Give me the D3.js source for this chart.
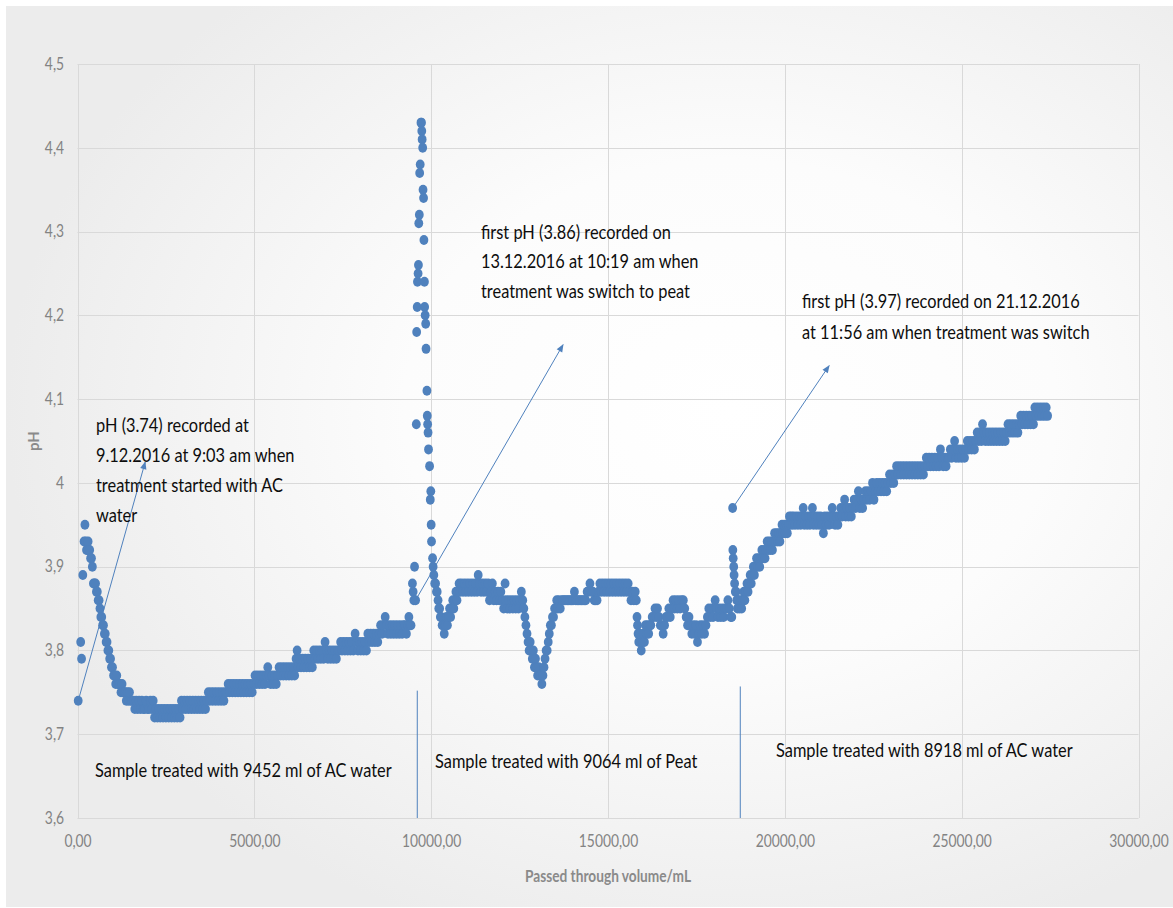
<!DOCTYPE html>
<html>
<head>
<meta charset="utf-8">
<script src="https://cdn.jsdelivr.net/npm/d3@7"></script>
<style>
  html, body { margin: 0; padding: 0; background: #ffffff; }
  svg { display: block; }
</style>
</head>
<body>
<svg id="chart" width="1173" height="908"></svg>
<script>
// pH readings [passed-through volume in mL, pH], one array per treatment phase
const acWaterFirst = [
  [20,3.74],[90,3.81],[115,3.79],[150,3.89],[185,3.93],[210,3.95],[235,3.93],[255,3.92],[280,3.92],[300,3.93],
  [320,3.92],[345,3.92],[370,3.91],[395,3.91],[420,3.90],[450,3.88],[480,3.88],[510,3.88],[535,3.87],[560,3.87],
  [585,3.86],[610,3.86],[635,3.85],[660,3.84],[685,3.84],[710,3.83],[735,3.83],[760,3.82],[785,3.82],[810,3.81],
  [835,3.81],[860,3.80],[885,3.80],[910,3.79],[935,3.79],[960,3.78],[990,3.78],[1020,3.77],[1050,3.77],[1080,3.76],
  [1110,3.77],[1140,3.76],[1170,3.76],[1200,3.76],[1230,3.75],[1260,3.76],[1290,3.75],[1320,3.75],[1350,3.75],[1380,3.74],
  [1410,3.75],[1440,3.74],[1470,3.75],[1500,3.74],[1540,3.74],[1580,3.74],[1620,3.73],[1660,3.74],[1700,3.73],[1740,3.74],
  [1780,3.73],[1820,3.74],[1860,3.73],[1900,3.73],[1940,3.74],[1980,3.73],[2020,3.73],[2060,3.74],[2100,3.73],[2140,3.74],
  [2180,3.72],[2220,3.73],[2260,3.72],[2300,3.73],[2340,3.72],[2380,3.73],[2420,3.72],[2460,3.73],[2500,3.72],[2540,3.73],
  [2580,3.72],[2620,3.73],[2660,3.72],[2700,3.73],[2740,3.72],[2780,3.73],[2820,3.72],[2860,3.73],[2900,3.72],[2940,3.74],
  [2980,3.73],[3020,3.74],[3060,3.73],[3100,3.74],[3140,3.73],[3180,3.74],[3220,3.73],[3260,3.74],[3300,3.73],[3340,3.74],
  [3380,3.73],[3420,3.74],[3460,3.73],[3500,3.74],[3540,3.73],[3580,3.74],[3620,3.73],[3660,3.74],[3700,3.75],[3740,3.74],
  [3780,3.75],[3820,3.74],[3860,3.75],[3900,3.74],[3940,3.75],[3980,3.74],[4020,3.75],[4060,3.74],[4100,3.75],[4140,3.74],
  [4180,3.75],[4220,3.75],[4260,3.76],[4300,3.75],[4340,3.76],[4380,3.75],[4420,3.76],[4460,3.75],[4500,3.76],[4540,3.75],
  [4580,3.76],[4620,3.75],[4660,3.76],[4700,3.75],[4740,3.76],[4780,3.75],[4820,3.76],[4860,3.75],[4900,3.76],[4940,3.75],
  [4980,3.76],[5020,3.77],[5060,3.76],[5100,3.77],[5140,3.76],[5180,3.77],[5220,3.76],[5260,3.77],[5300,3.76],[5340,3.77],
  [5380,3.78],[5420,3.77],[5460,3.76],[5500,3.77],[5540,3.76],[5580,3.77],[5620,3.76],[5660,3.77],[5700,3.78],[5740,3.77],
  [5780,3.78],[5820,3.77],[5860,3.78],[5900,3.77],[5940,3.78],[5980,3.77],[6020,3.78],[6060,3.77],[6100,3.78],[6140,3.77],
  [6180,3.79],[6210,3.80],[6240,3.78],[6280,3.79],[6320,3.78],[6360,3.79],[6400,3.78],[6440,3.79],[6480,3.78],[6520,3.79],
  [6560,3.78],[6600,3.79],[6640,3.78],[6680,3.80],[6720,3.79],[6760,3.80],[6800,3.79],[6840,3.80],[6880,3.79],[6920,3.80],
  [6960,3.79],[7000,3.81],[7040,3.80],[7080,3.79],[7120,3.80],[7160,3.79],[7200,3.80],[7240,3.79],[7280,3.80],[7320,3.79],
  [7360,3.80],[7400,3.80],[7440,3.81],[7480,3.80],[7520,3.81],[7560,3.80],[7600,3.81],[7640,3.80],[7680,3.81],[7720,3.80],
  [7760,3.81],[7800,3.80],[7850,3.82],[7890,3.81],[7930,3.80],[7970,3.81],[8010,3.80],[8050,3.81],[8090,3.80],[8130,3.81],
  [8170,3.80],[8210,3.82],[8250,3.81],[8290,3.82],[8330,3.81],[8370,3.82],[8410,3.81],[8450,3.82],[8490,3.81],[8530,3.82],
  [8570,3.83],[8610,3.82],[8650,3.83],[8700,3.84],[8740,3.83],[8780,3.82],[8820,3.83],[8860,3.82],[8900,3.83],[8940,3.82],
  [8980,3.83],[9020,3.82],[9060,3.83],[9100,3.82],[9140,3.83],[9180,3.82],[9220,3.83],[9260,3.83],[9300,3.82],[9340,3.83],
  [9370,3.84],[9400,3.83],[9430,3.83],[9470,3.88],[9490,3.87],[9510,3.86],[9530,3.90]
];

const peat = [
  [9560,3.86],[9580,4.07],[9590,4.18],[9605,4.21],[9612,4.24],[9630,4.25],[9640,4.26],[9650,4.31],[9665,4.32],[9675,4.37],
  [9690,4.38],[9712,4.43],[9725,4.43],[9735,4.42],[9745,4.41],[9760,4.40],[9770,4.35],[9785,4.34],[9795,4.29],[9810,4.24],
  [9815,4.21],[9830,4.20],[9845,4.19],[9855,4.16],[9880,4.11],[9890,4.08],[9900,4.07],[9912,4.06],[9925,4.04],[9955,4.02],
  [9975,3.98],[9990,3.99],[10000,3.95],[10010,3.93],[10040,3.91],[10055,3.90],[10075,3.89],[10100,3.88],[10125,3.88],[10150,3.87],
  [10170,3.87],[10195,3.86],[10215,3.85],[10240,3.85],[10260,3.84],[10285,3.84],[10310,3.83],[10340,3.83],[10370,3.82],[10400,3.83],
  [10430,3.84],[10460,3.83],[10490,3.84],[10520,3.85],[10550,3.84],[10580,3.85],[10610,3.86],[10640,3.85],[10670,3.86],[10700,3.87],
  [10730,3.86],[10760,3.87],[10790,3.88],[10820,3.87],[10860,3.88],[10900,3.87],[10940,3.88],[10980,3.87],[11020,3.88],[11060,3.87],
  [11100,3.88],[11140,3.87],[11180,3.88],[11220,3.87],[11260,3.88],[11300,3.87],[11330,3.89],[11370,3.88],[11410,3.87],[11450,3.88],
  [11490,3.87],[11530,3.88],[11570,3.87],[11610,3.88],[11650,3.86],[11690,3.87],[11730,3.88],[11770,3.86],[11810,3.87],[11850,3.86],
  [11890,3.87],[11930,3.86],[11970,3.87],[12010,3.86],[12050,3.85],[12090,3.88],[12110,3.86],[12150,3.85],[12190,3.86],[12230,3.85],
  [12270,3.86],[12310,3.85],[12350,3.86],[12390,3.85],[12430,3.86],[12470,3.85],[12510,3.86],[12550,3.87],[12590,3.86],[12620,3.85],
  [12650,3.84],[12680,3.83],[12710,3.82],[12740,3.81],[12770,3.80],[12800,3.81],[12830,3.80],[12860,3.79],[12890,3.80],[12920,3.78],
  [12950,3.79],[12980,3.78],[13010,3.77],[13040,3.78],[13070,3.77],[13100,3.77],[13130,3.76],[13160,3.77],[13190,3.78],[13220,3.79],
  [13250,3.80],[13280,3.80],[13310,3.81],[13340,3.82],[13370,3.83],[13400,3.83],[13430,3.84],[13460,3.84],[13490,3.85],[13520,3.85],
  [13550,3.86],[13580,3.85],[13610,3.86],[13650,3.85],[13690,3.86],[13730,3.86],[13770,3.86],[13810,3.86],[13850,3.86],[13890,3.86],
  [13930,3.86],[13970,3.86],[14010,3.86],[14050,3.87],[14090,3.86],[14130,3.86],[14170,3.86],[14210,3.86],[14250,3.86],[14290,3.86],
  [14330,3.86],[14370,3.86],[14410,3.87],[14450,3.87],[14490,3.88],[14530,3.87],[14570,3.87],[14610,3.86],[14650,3.86],[14690,3.86],
  [14730,3.87],[14770,3.88],[14810,3.87],[14850,3.88],[14890,3.87],[14930,3.88],[14970,3.87],[15010,3.88],[15050,3.87],[15090,3.88],
  [15130,3.87],[15170,3.88],[15210,3.87],[15250,3.88],[15290,3.87],[15330,3.88],[15370,3.87],[15410,3.88],[15450,3.87],[15490,3.88],
  [15530,3.87],[15570,3.88],[15610,3.87],[15650,3.86],[15690,3.87],[15730,3.86],[15770,3.87],[15800,3.86],[15820,3.84],[15835,3.83],
  [15850,3.82],[15870,3.81],[15900,3.82],[15940,3.80],[15970,3.81],[16000,3.82],[16030,3.81],[16060,3.83],[16090,3.82],[16120,3.83],
  [16150,3.82],[16180,3.83],[16210,3.83],[16250,3.84],[16290,3.84],[16330,3.85],[16370,3.84],[16400,3.85],[16440,3.84],[16480,3.83],
  [16520,3.83],[16560,3.82],[16600,3.83],[16640,3.84],[16680,3.84],[16720,3.85],[16760,3.84],[16800,3.85],[16840,3.86],[16880,3.85],
  [16920,3.86],[16960,3.85],[17000,3.86],[17040,3.85],[17080,3.86],[17130,3.86],[17170,3.85],[17210,3.84],[17250,3.83],[17290,3.84],
  [17330,3.83],[17370,3.82],[17410,3.83],[17450,3.82],[17490,3.83],[17530,3.81],[17570,3.82],[17610,3.83],[17650,3.82],[17690,3.83],
  [17730,3.82],[17770,3.83],[17810,3.84],[17850,3.85],[17890,3.84],[17930,3.85],[17970,3.84],[18030,3.86],[18070,3.85],[18110,3.84],
  [18150,3.85],[18190,3.84],[18230,3.85],[18270,3.84],[18310,3.85],[18350,3.85],[18390,3.86],[18430,3.85],[18470,3.84],[18500,3.84]
];

const acWaterSecond = [
  [18524,3.97],[18530,3.92],[18540,3.91],[18555,3.90],[18565,3.89],[18580,3.88],[18600,3.87],[18620,3.87],[18640,3.86],[18660,3.85],
  [18690,3.86],[18720,3.85],[18750,3.86],[18780,3.85],[18810,3.86],[18840,3.87],[18870,3.86],[18900,3.87],[18930,3.88],[18960,3.87],
  [18990,3.88],[19020,3.89],[19050,3.88],[19080,3.89],[19110,3.90],[19140,3.89],[19170,3.90],[19200,3.91],[19230,3.90],[19260,3.91],
  [19290,3.90],[19320,3.91],[19350,3.92],[19380,3.91],[19410,3.92],[19440,3.91],[19470,3.92],[19500,3.93],[19530,3.92],[19560,3.93],
  [19590,3.92],[19620,3.93],[19650,3.92],[19680,3.93],[19710,3.94],[19740,3.93],[19770,3.94],[19800,3.93],[19830,3.94],[19860,3.93],
  [19890,3.94],[19920,3.95],[19950,3.94],[19980,3.95],[20010,3.94],[20040,3.95],[20070,3.94],[20100,3.95],[20130,3.96],[20160,3.95],
  [20190,3.96],[20220,3.95],[20250,3.96],[20290,3.95],[20330,3.96],[20370,3.95],[20410,3.96],[20450,3.95],[20490,3.96],[20520,3.97],
  [20550,3.95],[20590,3.96],[20630,3.95],[20670,3.96],[20710,3.95],[20750,3.96],[20780,3.97],[20810,3.95],[20850,3.96],[20890,3.95],
  [20930,3.96],[20970,3.95],[21010,3.96],[21050,3.95],[21090,3.94],[21130,3.96],[21170,3.95],[21210,3.96],[21250,3.95],[21290,3.96],
  [21340,3.97],[21380,3.96],[21420,3.95],[21460,3.96],[21500,3.95],[21540,3.96],[21580,3.97],[21620,3.96],[21660,3.97],[21690,3.98],
  [21720,3.96],[21760,3.97],[21800,3.96],[21840,3.97],[21880,3.96],[21920,3.97],[21960,3.98],[22000,3.97],[22040,3.98],[22080,3.99],
  [22120,3.97],[22160,3.98],[22200,3.97],[22240,3.98],[22280,3.99],[22320,3.98],[22360,3.99],[22400,3.98],[22440,3.99],[22480,4.00],
  [22520,3.98],[22560,3.99],[22600,4.00],[22640,3.99],[22680,4.00],[22720,3.99],[22760,4.00],[22800,3.99],[22840,4.00],[22880,3.99],
  [22920,4.00],[22960,4.01],[23000,4.00],[23040,4.01],[23080,4.00],[23120,4.01],[23160,4.02],[23200,4.01],[23240,4.02],[23280,4.01],
  [23320,4.02],[23360,4.01],[23400,4.02],[23440,4.01],[23480,4.02],[23520,4.01],[23560,4.02],[23600,4.01],[23640,4.02],[23680,4.01],
  [23720,4.02],[23760,4.01],[23800,4.02],[23840,4.01],[23880,4.02],[23920,4.01],[23960,4.02],[24000,4.03],[24040,4.02],[24080,4.03],
  [24120,4.02],[24160,4.03],[24200,4.02],[24240,4.03],[24280,4.02],[24320,4.03],[24360,4.02],[24400,4.04],[24440,4.03],[24480,4.02],
  [24520,4.03],[24560,4.02],[24600,4.03],[24640,4.03],[24680,4.04],[24720,4.03],[24760,4.04],[24800,4.05],[24840,4.03],[24880,4.04],
  [24920,4.03],[24960,4.04],[25000,4.03],[25040,4.04],[25080,4.03],[25120,4.04],[25160,4.05],[25200,4.04],[25240,4.05],[25280,4.04],
  [25320,4.05],[25360,4.04],[25400,4.05],[25440,4.06],[25480,4.05],[25520,4.06],[25560,4.05],[25590,4.07],[25630,4.06],[25670,4.05],
  [25710,4.06],[25750,4.05],[25790,4.06],[25830,4.05],[25870,4.06],[25910,4.05],[25950,4.06],[25990,4.05],[26030,4.06],[26070,4.05],
  [26110,4.06],[26150,4.05],[26190,4.06],[26230,4.05],[26270,4.06],[26310,4.07],[26350,4.06],[26390,4.07],[26430,4.06],[26470,4.07],
  [26510,4.06],[26550,4.07],[26590,4.06],[26630,4.07],[26670,4.08],[26710,4.07],[26750,4.08],[26790,4.07],[26830,4.08],[26870,4.07],
  [26910,4.08],[26950,4.07],[26990,4.08],[27030,4.07],[27070,4.09],[27110,4.08],[27150,4.09],[27190,4.08],[27230,4.09],[27270,4.08],
  [27310,4.09],[27350,4.08],[27390,4.09],[27430,4.08]
];

const xTicks = [0, 5000, 10000, 15000, 20000, 25000, 30000];
const yTicks = [3.6, 3.7, 3.8, 3.9, 4.0, 4.1, 4.2, 4.3, 4.4, 4.5];

const xTitle = "Passed through volume/mL";
const yTitle = "pH";

const phaseNotes = [
  { lines: ["pH (3.74) recorded at", "9.12.2016 at 9:03 am when", "treatment started with AC", "water"] },
  { lines: ["first pH (3.86) recorded on", "13.12.2016 at 10:19 am when", "treatment was switch to peat"] },
  { lines: ["first pH (3.97) recorded on 21.12.2016", "at 11:56 am when treatment was switch"] }
];
const volumeNotes = [
  "Sample treated with 9452 ml of AC water",
  "Sample treated with 9064 ml of Peat",
  "Sample treated with 8918 ml of AC water"
];

// ---------------------------------------------------------------------------
const W = 1173, H = 908;
const svg = d3.select("#chart");
const FONT = "Lato, 'Open Sans', sans-serif";
const SQUEEZE = 0.84;   // horizontal condensing of all lettering

const x = d3.scaleLinear().domain([0, 30000]).range([77.5, 1138.5]);
const y = d3.scaleLinear().domain([3.6, 4.5]).range([818, 64]);

// soft chart-area background
const defs = svg.append("defs");
const bg = defs.append("radialGradient").attr("id", "bgGrad")
  .attr("cx", "62%").attr("cy", "45%").attr("r", "62%");
bg.append("stop").attr("offset", "0%").attr("stop-color", "#ffffff");
bg.append("stop").attr("offset", "45%").attr("stop-color", "#fcfcfc");
bg.append("stop").attr("offset", "100%").attr("stop-color", "#ececec");

defs.append("marker").attr("id", "arrowHead")
  .attr("viewBox", "0 0 10 10").attr("refX", 9).attr("refY", 5)
  .attr("markerWidth", 9).attr("markerHeight", 8).attr("orient", "auto")
  .attr("markerUnits", "userSpaceOnUse")
  .append("path").attr("d", "M0,1 L10,5 L0,9 Z").attr("fill", "#4f81bd");

svg.append("rect").attr("x", 6).attr("y", 6).attr("width", W - 6).attr("height", H - 7)
  .attr("fill", "url(#bgGrad)");

const crisp = v => Math.round(v) + 0.5;

// gridlines
const grid = svg.append("g");
grid.selectAll("line.h").data(yTicks).join("line")
  .attr("x1", x(0)).attr("x2", x(30000))
  .attr("y1", d => crisp(y(d))).attr("y2", d => crisp(y(d)))
  .attr("stroke", "#d9d9d9").attr("stroke-width", 1);
grid.selectAll("line.v").data(xTicks).join("line")
  .attr("x1", d => crisp(x(d))).attr("x2", d => crisp(x(d)))
  .attr("y1", y(4.5)).attr("y2", y(3.6))
  .attr("stroke", "#d9d9d9").attr("stroke-width", 1);

// axes (labels only; lines come from the grid)
const fmtX = d => d3.format(".2f")(d).replace(".", ",");
const fmtY = d => String(+d.toFixed(1)).replace(".", ",");

const gx = svg.append("g").attr("transform", `translate(0,${y(3.6)})`)
  .call(d3.axisBottom(x).tickValues(xTicks).tickFormat(fmtX).tickSize(0).tickPadding(17));
const gy = svg.append("g").attr("transform", `translate(${x(0)},0)`)
  .call(d3.axisLeft(y).tickValues(yTicks).tickFormat(fmtY).tickSize(0).tickPadding(16));
[gx, gy].forEach(g => {
  g.select(".domain").remove();
  g.selectAll("text")
    .attr("fill", "#838383").style("font-family", FONT).style("font-size", "16.5px")
    .attr("transform", `scale(${SQUEEZE},1)`);
});

// axis titles
svg.append("text").attr("x", 608).attr("y", 882).attr("text-anchor", "middle")
  .attr("fill", "#8a8a8a").style("font-family", FONT).style("font-weight", "bold")
  .style("font-size", "17px").attr("textLength", 166).attr("lengthAdjust", "spacingAndGlyphs")
  .text(xTitle);
svg.append("text").attr("transform", "translate(39,441) rotate(-90)").attr("text-anchor", "middle")
  .attr("fill", "#8a8a8a").style("font-family", FONT).style("font-weight", "bold")
  .style("font-size", "15px").text(yTitle);

// readings
const points = svg.append("g");
const allReadings = acWaterFirst.concat(peat, acWaterSecond);
points.selectAll("ellipse").data(allReadings).join("ellipse")
  .attr("cx", d => x(d[0])).attr("cy", d => y(d[1]))
  .attr("rx", 4.4).attr("ry", 5.0)
  .attr("fill", "#4f81bd");

// phase boundaries
const boundaries = [[9607, 3.752], [18740, 3.757]];
svg.selectAll("line.bound").data(boundaries).join("line")
  .attr("x1", d => x(d[0])).attr("x2", d => x(d[0]))
  .attr("y1", d => y(d[1])).attr("y2", y(3.6))
  .attr("stroke", "#4f81bd").attr("stroke-width", 1);

// callout arrows from the first reading of each phase
const firstReadings = [acWaterFirst[0], peat[0], acWaterSecond[0]];
const arrowTips = [[1915, 4.025], [13730, 4.165], [21254, 4.14]];
svg.selectAll("line.callout").data(firstReadings).join("line")
  .attr("x1", d => x(d[0])).attr("y1", d => y(d[1]))
  .attr("x2", (d, i) => x(arrowTips[i][0])).attr("y2", (d, i) => y(arrowTips[i][1]))
  .attr("stroke", "#4f81bd").attr("stroke-width", 1)
  .attr("marker-end", "url(#arrowHead)");

// callout text blocks
function squeezedText(g, tx, ty, str, size, anchor) {
  g.append("text")
    .attr("transform", `translate(${tx},${ty}) scale(${SQUEEZE},1)`)
    .attr("text-anchor", anchor || "start")
    .attr("fill", "#0d0d0d").style("font-family", FONT).style("font-size", size + "px")
    .text(str);
}
const noteAnchors = [[96, 432, 30], [481, 239, 29.3], [802, 308, 30.5]];
const notes = svg.append("g");
phaseNotes.forEach((n, i) => {
  const [tx, ty, step] = noteAnchors[i];
  n.lines.forEach((line, j) => squeezedText(notes, tx, ty + j * step, line, 19.5));
});
const volumeAnchors = [[95, 777], [435, 768], [776, 757]];
volumeNotes.forEach((t, i) => squeezedText(notes, volumeAnchors[i][0], volumeAnchors[i][1], t, 19.5));
</script>
</body>
</html>
